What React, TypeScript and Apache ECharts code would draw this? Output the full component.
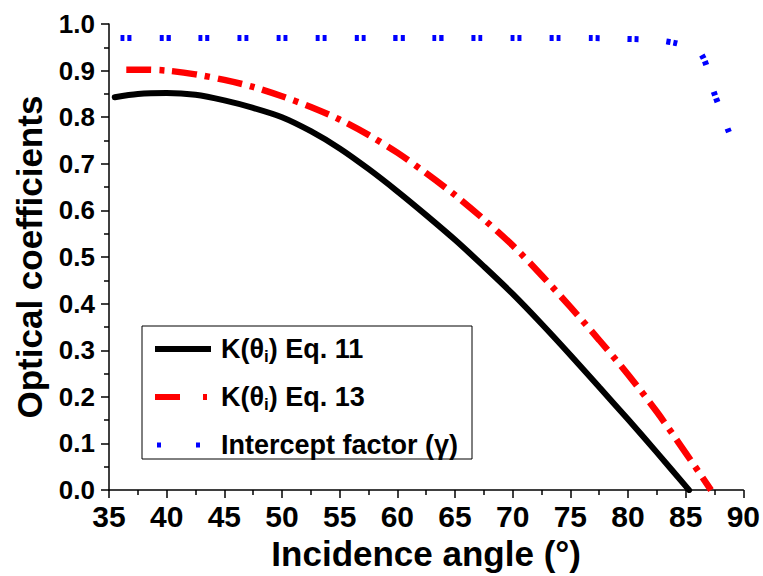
import React, { useEffect, useRef } from "react";
import * as echarts from "echarts";

// Eq. 11 curve
const angleEq11 = [35.5, 37.5, 40, 42.5, 45, 47.5, 50, 52.5, 55, 57.5, 60, 62.5, 65, 67.5, 70, 72.5, 75, 77.5, 80, 82.5, 85.3];
const kEq11 = [0.843, 0.850, 0.852, 0.848, 0.836, 0.820, 0.800, 0.770, 0.733, 0.689, 0.641, 0.590, 0.537, 0.480, 0.421, 0.357, 0.290, 0.221, 0.152, 0.081, 0.0];

// Eq. 13 curve
const angleEq13 = [36.5, 38, 40, 42.5, 45, 47.5, 50, 52.5, 55, 57.5, 60, 62.5, 65, 67.5, 70, 72.5, 75, 77.5, 80, 82.5, 85, 87.2];
const kEq13 = [0.902, 0.902, 0.900, 0.892, 0.880, 0.865, 0.845, 0.822, 0.795, 0.762, 0.724, 0.680, 0.633, 0.581, 0.525, 0.461, 0.393, 0.322, 0.248, 0.168, 0.080, 0.0];

// Intercept factor
const angleGamma = [36, 40, 44, 48, 52, 56, 60, 64, 68, 72, 76, 80, 82, 83.5, 85, 86.3, 87.4, 88.8];
const gamma = [0.97, 0.97, 0.97, 0.97, 0.97, 0.97, 0.97, 0.97, 0.97, 0.97, 0.97, 0.968, 0.966, 0.962, 0.953, 0.938, 0.857, 0.765];

const seriesNames = ["K(θi) Eq. 11", "K(θi) Eq. 13", "Intercept factor (γ)"];
const xTitle = "Incidence angle (°)";
const yTitle = "Optical coefficients";

const FONT = "'Liberation Sans', Arial, sans-serif";
const NARROW = "'Liberation Sans Narrow', 'Arial Narrow', 'Liberation Sans', sans-serif";

const zip = (xs: number[], ys: number[]) => xs.map((x, i) => [x, ys[i]]);

export default function App() {
  const ref = useRef<HTMLDivElement>(null);
  useEffect(() => {
    if (!ref.current) return;
    const chart = echarts.init(ref.current, undefined, { renderer: "svg" });
    const lx = 142, ly = 326;
    const rows = [349, 397, 445];
    const richK = {
      b: { fontFamily: FONT, fontWeight: "bold", fontSize: 27, fill: "#000" },
      s: { fontFamily: FONT, fontWeight: "bold", fontSize: 17, fill: "#000", padding: [14, 0, 0, 0] },
    };
    chart.setOption({
      animation: false,
      backgroundColor: "#fff",
      grid: { left: 109, right: 17, top: 24, bottom: 84, containLabel: false },
      xAxis: {
        type: "value",
        min: 35,
        max: 90,
        interval: 5,
        name: xTitle,
        nameLocation: "middle",
        nameGap: 36,
        nameTextStyle: { fontFamily: FONT, fontWeight: "bold", fontSize: 35, color: "#000" },
        axisLine: { show: true, onZero: false, lineStyle: { color: "#000", width: 1.5 } },
        axisTick: { show: true, inside: false, length: 8, lineStyle: { color: "#000", width: 1.5 } },
        minorTick: { show: true, splitNumber: 2, length: 5, lineStyle: { color: "#000", width: 1.5 } },
        splitLine: { show: false },
        axisLabel: { fontFamily: NARROW, fontWeight: "bold", fontSize: 30, color: "#000", margin: 11 },
      },
      yAxis: {
        type: "value",
        min: 0,
        max: 1,
        interval: 0.1,
        name: yTitle,
        nameLocation: "middle",
        nameGap: 62,
        nameRotate: 90,
        nameTextStyle: { fontFamily: FONT, fontWeight: "bold", fontSize: 35, color: "#000" },
        axisLine: { show: true, onZero: false, lineStyle: { color: "#000", width: 1.5 } },
        axisTick: { show: true, inside: false, length: 8, lineStyle: { color: "#000", width: 1.5 } },
        minorTick: { show: true, splitNumber: 2, length: 5, lineStyle: { color: "#000", width: 1.5 } },
        splitLine: { show: false },
        axisLabel: {
          fontFamily: FONT,
          fontWeight: "bold",
          fontSize: 26,
          color: "#000",
          margin: 14,
          formatter: (v: number) => v.toFixed(1),
        },
      },
      series: [
        {
          name: seriesNames[0],
          type: "line",
          data: zip(angleEq11, kEq11),
          smooth: 0.3,
          showSymbol: false,
          symbol: "none",
          lineStyle: { color: "#000", width: 6, cap: "round" },
          z: 3,
        },
        {
          name: seriesNames[1],
          type: "line",
          data: zip(angleEq13, kEq13),
          smooth: 0.3,
          showSymbol: false,
          symbol: "none",
          lineStyle: { color: "#ff0000", width: 6.5, type: [25, 8, 5, 8], cap: "butt" },
          z: 2,
        },
        {
          name: seriesNames[2],
          type: "line",
          data: zip(angleGamma, gamma),
          smooth: 0.4,
          showSymbol: false,
          symbol: "none",
          lineStyle: { color: "#0000ff", width: 6, type: [4, 3, 4, 28], cap: "butt" },
          z: 1,
        },
      ],
      graphic: [
        {
          type: "rect",
          shape: { x: lx, y: ly, width: 330, height: 133 },
          style: { fill: "#fff", stroke: "#000", lineWidth: 1 },
          z: 10,
        },
        {
          type: "line",
          shape: { x1: 155, y1: rows[0], x2: 211, y2: rows[0] },
          style: { stroke: "#000", lineWidth: 6 },
          z: 11,
        },
        {
          type: "line",
          shape: { x1: 155, y1: rows[1], x2: 211, y2: rows[1] },
          style: { stroke: "#ff0000", lineWidth: 6, lineDash: [25, 23, 4, 100] },
          z: 11,
        },
        {
          type: "line",
          shape: { x1: 157, y1: rows[2], x2: 211, y2: rows[2] },
          style: { stroke: "#0000ff", lineWidth: 5, lineDash: [4, 35, 4, 100] },
          z: 11,
        },
        {
          type: "text",
          x: 221,
          y: rows[0],
          style: { text: "{b|K(θ}{s|i}{b|) Eq. 11}", verticalAlign: "middle", rich: richK },
          z: 11,
        },
        {
          type: "text",
          x: 221,
          y: rows[1],
          style: { text: "{b|K(θ}{s|i}{b|) Eq. 13}", verticalAlign: "middle", rich: richK },
          z: 11,
        },
        {
          type: "text",
          x: 221,
          y: rows[2],
          style: {
            text: seriesNames[2],
            verticalAlign: "middle",
            fontFamily: FONT,
            fontWeight: "bold",
            fontSize: 27,
            fill: "#000",
          },
          z: 11,
        },
      ],
    });
    return () => chart.dispose();
  }, []);
  return (
    <div
      ref={ref}
      style={{ position: "fixed", left: 0, top: 0, width: 763, height: 576, background: "#fff" }}
    />
  );
}
